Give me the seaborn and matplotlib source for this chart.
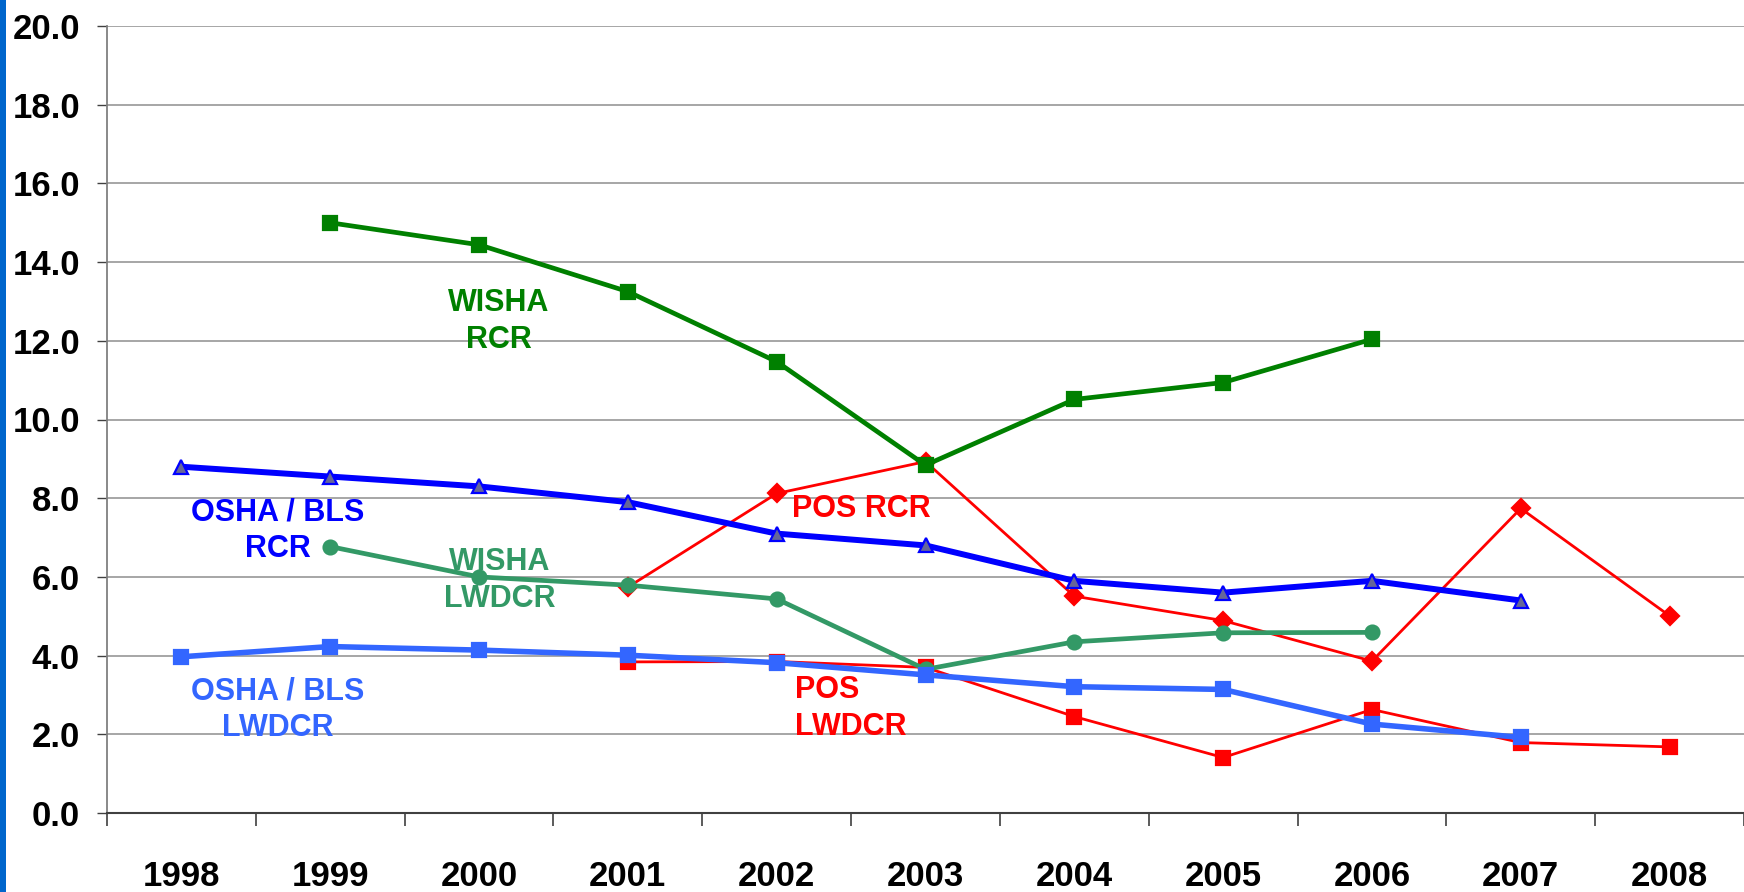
import numpy as np
import pandas as pd
import matplotlib
matplotlib.use("Agg")
import matplotlib.pyplot as plt
import seaborn as sns
from matplotlib.patches import Rectangle
from matplotlib.ticker import FixedLocator, NullFormatter

years = ["1998", "1999", "2000", "2001", "2002", "2003", "2004", "2005", "2006", "2007", "2008"]
osha_rcr = [8.8, 8.55, 8.3, 7.9, 7.1, 6.8, 5.9, 5.6, 5.9, 5.4, np.nan]
wisha_rcr = [np.nan, 15.0, 14.44, 13.25, 11.47, 8.84, 10.51, 10.94, 12.04, np.nan, np.nan]
wisha_lwdcr = [np.nan, 6.77, 6.0, 5.79, 5.44, 3.65, 4.35, 4.58, 4.59, np.nan, np.nan]
osha_lwdcr = [3.97, 4.23, 4.14, 4.01, 3.82, 3.51, 3.21, 3.14, 2.26, 1.92, np.nan]
pos_rcr = [np.nan, np.nan, np.nan, 5.74, 8.12, 8.93, 5.51, 4.89, 3.86, 7.74, 5.01]
pos_lwdcr = [np.nan, np.nan, np.nan, 3.84, 3.85, 3.7, 2.45, 1.41, 2.63, 1.79, 1.68]

sns.set_theme(style="white")
plt.rcParams['font.family'] = ['Liberation Sans', 'DejaVu Sans']

fig = plt.figure(figsize=(17.44, 8.92), dpi=100)
ax = fig.add_axes([107/1744, 1 - 813/892, 1 - 107/1744, (813 - 26)/892])

# left blue strip
fig.patches.append(Rectangle((0, 0), 6/1744, 1, transform=fig.transFigure,
                             facecolor="#0066CC", edgecolor="none"))

xpos = np.arange(len(years))
series = [
    # name, values, color, lw, marker, ms, mfc, mec, zorder
    ("POS LWDCR", pos_lwdcr, "#FF0000", 2.0, "s", 10, "#FF0000", "#FF0000", 3),
    ("POS RCR", pos_rcr, "#FF0000", 2.0, "D", 9.5, "#FF0000", "#FF0000", 3),
    ("WISHA RCR", wisha_rcr, "#008000", 3.4, "s", 10, "#008000", "#008000", 4),
    ("WISHA LWDCR", wisha_lwdcr, "#339966", 3.4, "o", 10, "#339966", "#339966", 4),
    ("OSHA LWDCR", osha_lwdcr, "#3366FF", 4.0, "s", 10.5, "#3366FF", "#3366FF", 5),
    ("OSHA RCR", osha_rcr, "#0000FF", 4.3, "^", 10.5, "#666699", "#0000FF", 5),
]
for name, vals, col, lw, mk, ms, mfc, mec, z in series:
    df = pd.DataFrame({"x": xpos, "y": vals}).dropna()
    sns.lineplot(data=df, x="x", y="y", ax=ax, color=col, linewidth=lw, marker=mk,
                 markersize=ms, markerfacecolor=mfc, markeredgecolor=mec,
                 markeredgewidth=1.6, zorder=z, legend=False)

ax.set_xlim(-0.5, len(years) - 0.5)
ax.set_ylim(0, 20)
ax.set_yticks(np.arange(0, 20.1, 2))
ax.set_yticklabels([f"{v:.1f}" for v in np.arange(0, 20.1, 2)], fontsize=25, fontweight="bold")
ax.set_xticks(xpos)
ax.set_xticklabels(years, fontsize=25, fontweight="bold")
ax.xaxis.set_minor_locator(FixedLocator(np.arange(-0.5, len(years), 1.0)))
ax.xaxis.set_minor_formatter(NullFormatter())
ax.tick_params(axis="x", which="major", length=0, pad=34, labelcolor="black")
ax.tick_params(axis="x", which="minor", length=9.5, width=1.2, color="#404040", direction="out", bottom=True)
ax.tick_params(axis="y", which="major", length=7.5, width=1.0, color="#404040", direction="out",
               left=True, pad=12, labelcolor="black")
ax.set_xlabel("")
ax.set_ylabel("")
ax.grid(axis="y", color="#A6A6A6", lw=1.4)
ax.grid(axis="x", visible=False)
ax.set_axisbelow(True)
for s in ["top", "right"]:
    ax.spines[s].set_visible(False)
ax.spines["left"].set_color("#808080")
ax.spines["left"].set_linewidth(1.3)
ax.spines["bottom"].set_color("#404040")
ax.spines["bottom"].set_linewidth(1.5)

tkw = dict(fontsize=22, fontweight="bold", ha="center", va="center", linespacing=1.3, zorder=6)
ax.text(2.13, 12.49, "WISHA\nRCR", color="#008000", **tkw)
ax.text(0.65, 7.17, "OSHA / BLS\nRCR", color="#0000FF", **tkw)
ax.text(2.14, 5.9, "WISHA\nLWDCR", color="#339966", **tkw)
ax.text(0.65, 2.63, "OSHA / BLS\nLWDCR", color="#3366FF", **tkw)
ax.text(4.57, 7.73, "POS RCR", color="#FF0000", **tkw)
ax.text(4.12, 2.66, "POS\nLWDCR", color="#FF0000", fontsize=22, fontweight="bold",
        ha="left", va="center", multialignment="left", linespacing=1.3, zorder=6)

fig.savefig("out.png", dpi=100)
